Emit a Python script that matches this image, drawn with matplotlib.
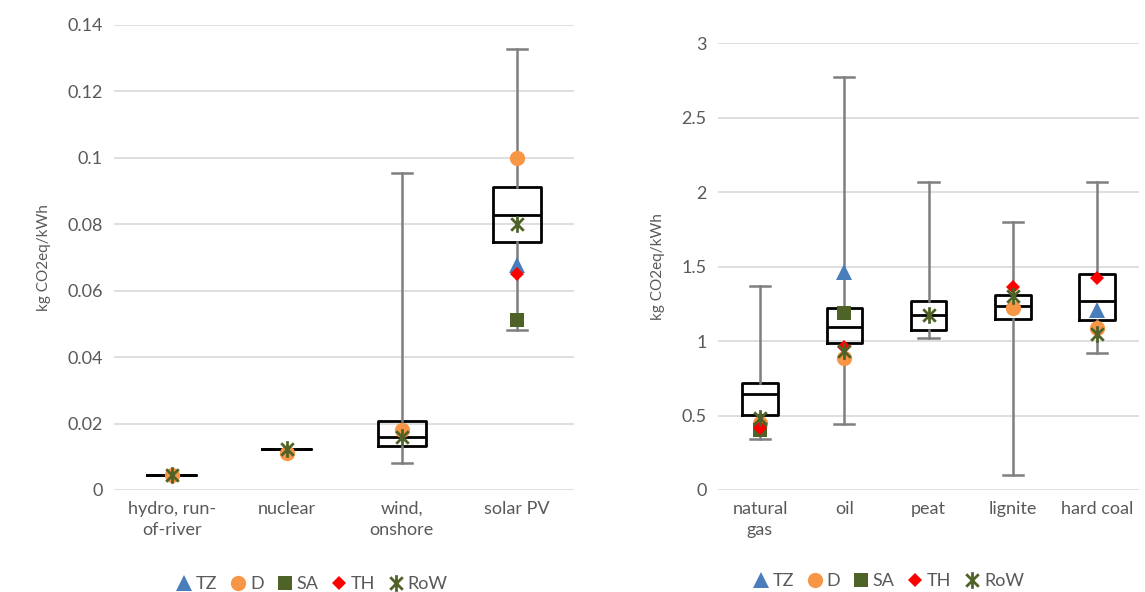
import matplotlib.pyplot as plt
from matplotlib.path import Path
import numpy as np

plt.rcParams['font.family'] = ['Lato', 'DejaVu Sans']

nan = np.nan

# left panel: renewables / nuclear
cats_l = ['hydro, run-\nof-river', 'nuclear', 'wind,\nonshore', 'solar PV']
q1_l = [0.0045, 0.0123, 0.0133, 0.0747]
med_l = [0.0045, 0.0123, 0.0160, 0.0828]
q3_l = [0.0045, 0.0123, 0.0208, 0.0912]
lo_l = [0.0045, 0.0123, 0.0080, 0.0482]
hi_l = [0.0045, 0.0123, 0.0955, 0.1328]
tz_l = [nan, nan, nan, 0.0678]
d_l = [0.0045, 0.0112, 0.0180, 0.1000]
sa_l = [nan, nan, nan, 0.0512]
th_l = [nan, nan, nan, 0.0650]
row_l = [0.0045, 0.0123, 0.0160, 0.0802]

# right panel: fossil
cats_r = ['natural\ngas', 'oil', 'peat', 'lignite', 'hard coal']
q1_r = [0.505, 0.99, 1.075, 1.15, 1.14]
med_r = [0.645, 1.095, 1.175, 1.235, 1.27]
q3_r = [0.72, 1.22, 1.27, 1.31, 1.45]
lo_r = [0.34, 0.445, 1.02, 0.10, 0.92]
hi_r = [1.37, 2.77, 2.07, 1.80, 2.07]
tz_r = [nan, 1.46, nan, nan, 1.21]
d_r = [0.45, 0.885, nan, 1.22, 1.09]
sa_r = [0.40, 1.19, nan, nan, nan]
th_r = [0.415, 0.96, nan, 1.36, 1.42]
row_r = [0.48, 0.935, 1.175, 1.30, 1.05]

# excel-like star marker: X plus vertical bar
a = 0.75
star = Path([(-a, -a), (a, a), (-a, a), (a, -a), (0, -1), (0, 1)],
            [Path.MOVETO, Path.LINETO, Path.MOVETO, Path.LINETO, Path.MOVETO, Path.LINETO])

series = [
    ('TZ', '^', '#4a7ebb', 11),
    ('D', 'o', '#f79646', 11),
    ('SA', 's', '#4f6228', 9.5),
    ('TH', 'D', '#ff0000', 7.5),
    ('RoW', star, '#4f6228', 12),
]

grey = '#595959'
fig = plt.figure(figsize=(11.45, 5.92), dpi=100)
ax_l = fig.add_axes([0.0996, 0.1723, 0.402, 0.7855])
ax_r = fig.add_axes([0.627, 0.1723, 0.368, 0.7550])


def panel(ax, cats, q1, med, q3, lo, hi, pts, ymax, step, capw, legx):
    stats = [dict(med=m, q1=a1, q3=a3, whislo=l, whishi=h)
             for m, a1, a3, l, h in zip(med, q1, q3, lo, hi)]
    x = np.arange(len(cats))
    ax.bxp(stats, positions=x, widths=0.42, showfliers=False, capwidths=capw,
           boxprops=dict(color='black', linewidth=2),
           medianprops=dict(color='black', linewidth=2),
           whiskerprops=dict(color='#7f7f7f', linewidth=1.8),
           capprops=dict(color='#7f7f7f', linewidth=1.8), zorder=2)
    for (name, mk, col, ms), vals in zip(series, pts):
        if mk is star:
            ax.plot(x, vals, linestyle='none', marker=mk, color=col, ms=ms,
                    mew=2, label=name, zorder=3)
        else:
            ax.plot(x, vals, linestyle='none', marker=mk, color=col, ms=ms,
                    mew=0, label=name, zorder=3)
    ax.set_xlim(-0.5, len(cats) - 0.5)
    ax.set_ylim(0, ymax)
    ticks = np.arange(0, ymax + step / 2, step)
    ax.set_yticks(ticks)
    ax.set_yticklabels(['{:g}'.format(round(v, 3)) for v in ticks])
    ax.set_xticks(x)
    ax.set_xticklabels(cats, linespacing=1.4)
    ax.grid(axis='y', color='#d9d9d9', linewidth=1.2)
    ax.set_axisbelow(True)
    for s in ax.spines.values():
        s.set_visible(False)
    ax.tick_params(length=0, labelsize=13, colors=grey, pad=8)
    ax.set_ylabel('kg CO2eq/kWh', color=grey, fontsize=11, labelpad=12)
    ax.legend(loc='upper center', bbox_to_anchor=(legx, -0.15), ncol=5, frameon=False,
              handletextpad=0.0, columnspacing=0.5, fontsize=13, labelcolor=grey,
              handlelength=1.3)


panel(ax_l, cats_l, q1_l, med_l, q3_l, lo_l, hi_l,
      [tz_l, d_l, sa_l, th_l, row_l], 0.14, 0.02, 0.17, 0.426)
panel(ax_r, cats_r, q1_r, med_r, q3_r, lo_r, hi_r,
      [tz_r, d_r, sa_r, th_r, row_r], 3.0, 0.5, 0.24, 0.40)

fig.savefig('out.png', dpi=100)
